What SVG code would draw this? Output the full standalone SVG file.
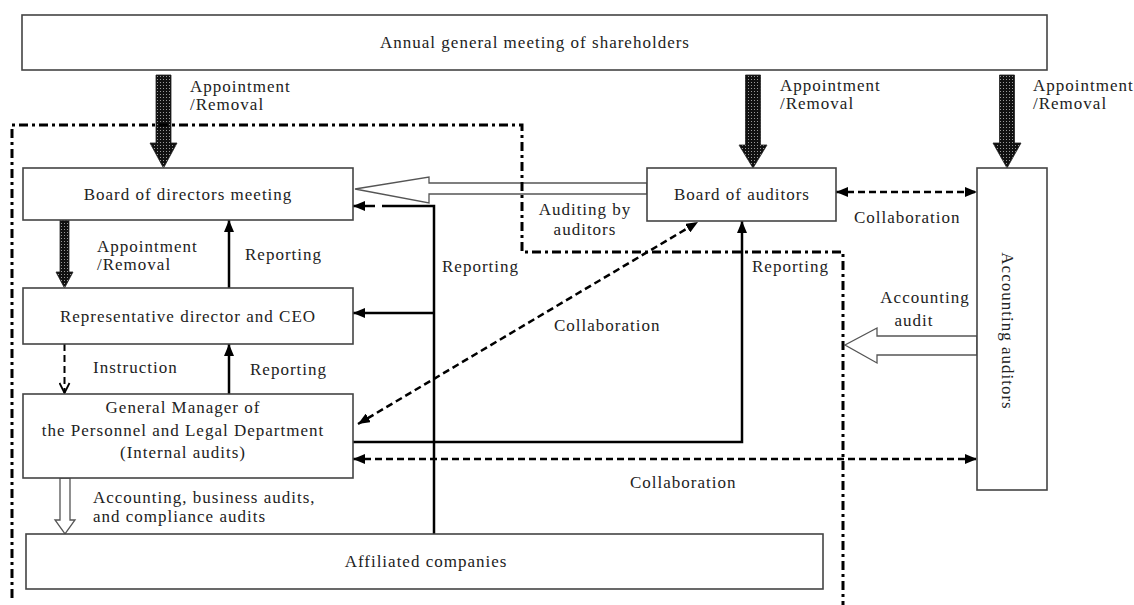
<svg xmlns="http://www.w3.org/2000/svg" width="1134" height="605" viewBox="0 0 1134 605">
<style>
.box{fill:#fff;stroke:#444;stroke-width:1.6}
.t{font-family:"Liberation Serif","Times New Roman",serif;font-size:17px;letter-spacing:1px;fill:#222}
.m{text-anchor:middle}
.solid{fill:none;stroke:#000;stroke-width:2.5}
.dash{fill:none;stroke:#000;stroke-width:2.5;stroke-dasharray:7 4}
.hollow{fill:#fff;stroke:#555;stroke-width:1.3}
.pat{fill:url(#dots);stroke:#222;stroke-width:0.8}
.region{fill:none;stroke:#000;stroke-width:3;stroke-dasharray:9 4 3 4}
</style>
<defs>
<pattern id="dots" width="3" height="3" patternUnits="userSpaceOnUse"><rect width="3" height="3" fill="#111"/><rect x="1" y="1" width="1" height="1" fill="#999"/></pattern>
<marker id="ah" viewBox="0 0 12 10" refX="12" refY="5" markerWidth="12" markerHeight="10" orient="auto-start-reverse" markerUnits="userSpaceOnUse"><path d="M0,0 L12,5 L0,10 z" fill="#000"/></marker>
<marker id="av" viewBox="0 0 12 12" refX="11" refY="6" markerWidth="12" markerHeight="12" orient="auto" markerUnits="userSpaceOnUse"><path d="M1,1 L11,6 L1,11" fill="none" stroke="#000" stroke-width="1.8"/></marker>
</defs>

<g id="connectors">
<!-- appointment arrows -->
<polygon class="pat" points="156,75 171,75 171,143 177,143 163.5,168 150,143 156,143"/>
<polygon class="pat" points="745.5,75 760.5,75 760.5,145 767,145 753,168 739,145 745.5,145"/>
<polygon class="pat" points="999.5,75 1014.5,75 1014.5,143 1021,143 1007,168 993,143 999.5,143"/>
<polygon class="pat" points="60,220 69,220 69,272 73,272 64.5,288 56,272 60,272"/>
<!-- auditing by auditors hollow arrow -->
<polygon class="hollow" points="647,183 429,183 429,177 355,189 429,203 429,194 647,194"/>
<!-- accounting audit hollow arrow -->
<polygon class="hollow" points="977,336 877,336 877,328 845,345 877,363 877,355 977,355"/>
<!-- hollow arrow GM to affiliated -->
<polygon class="hollow" points="60,478 70,478 70,520 75,520 65,534 55,520 60,520"/>
<!-- reporting from affiliated -->
<path class="solid" d="M434,534 V206 H382"/>
<path class="solid" d="M375,206 H353" marker-end="url(#ah)"/>
<path class="solid" d="M434,313 H353" marker-end="url(#ah)"/>
<!-- reporting GM to board of auditors -->
<path class="solid" d="M353,442 H742 V221" marker-end="url(#ah)"/>
<!-- reporting verticals -->
<path class="solid" d="M229,288 V220" marker-end="url(#ah)"/>
<path class="solid" d="M229,394 V344" marker-end="url(#ah)"/>
<!-- instruction -->
<path class="dash" style="stroke-width:2" d="M64.5,344 V393" marker-end="url(#av)"/>
<!-- collaboration -->
<path class="dash" d="M358,424 L698,222" marker-start="url(#ah)" marker-end="url(#ah)"/>
<path class="dash" d="M836,192 H977" marker-start="url(#ah)" marker-end="url(#ah)"/>
<path class="dash" d="M353,459 H977" marker-start="url(#ah)" marker-end="url(#ah)"/>
<!-- region boundary -->
<path class="region" d="M12,598 V125 H522 V252 H843 V605"/>
</g>

<g id="agm"><rect class="box" x="22" y="15" width="1025" height="55"/><text class="t m" x="535" y="48">Annual general meeting of shareholders</text></g>
<g id="bod"><rect class="box" x="23" y="168" width="330" height="52"/><text class="t m" x="188" y="200">Board of directors meeting</text></g>
<g id="ceo"><rect class="box" x="23" y="288" width="330" height="56"/><text class="t m" x="188" y="322">Representative director and CEO</text></g>
<g id="gm"><rect class="box" x="23" y="394" width="330" height="84"/>
<text class="t m" x="183" y="413">General Manager of</text>
<text class="t m" x="183" y="436">the Personnel and Legal Department</text>
<text class="t m" x="183" y="458">(Internal audits)</text></g>
<g id="affiliated"><rect class="box" x="26" y="534" width="797" height="55"/><text class="t m" x="426" y="567">Affiliated companies</text></g>
<g id="boa"><rect class="box" x="647" y="168" width="189" height="53"/><text class="t m" x="742" y="200">Board of auditors</text></g>
<g id="acc"><rect class="box" x="977" y="168" width="70" height="322"/><text class="t m" transform="translate(1002,331) rotate(90)">Accounting auditors</text></g>

<g id="labels">
<text class="t" x="190" y="92">Appointment</text><text class="t" x="190" y="110">/Removal</text>
<text class="t" x="780" y="91">Appointment</text><text class="t" x="780" y="109">/Removal</text>
<text class="t" x="1033" y="91">Appointment</text><text class="t" x="1033" y="109">/Removal</text>
<text class="t" x="97" y="252">Appointment</text><text class="t" x="97" y="270">/Removal</text>
<text class="t" x="245" y="260">Reporting</text>
<text class="t" x="93" y="373">Instruction</text>
<text class="t" x="250" y="375">Reporting</text>
<text class="t m" x="585" y="215">Auditing by</text><text class="t m" x="585" y="235">auditors</text>
<text class="t" x="442" y="272">Reporting</text>
<text class="t" x="752" y="272">Reporting</text>
<text class="t" x="854" y="223">Collaboration</text>
<text class="t" x="554" y="331">Collaboration</text>
<text class="t" x="630" y="488">Collaboration</text>
<text class="t m" x="925" y="303">Accounting</text><text class="t m" x="914" y="326">audit</text>
<text class="t" x="93" y="503">Accounting, business audits,</text>
<text class="t" x="93" y="522">and compliance audits</text>
</g>
</svg>
